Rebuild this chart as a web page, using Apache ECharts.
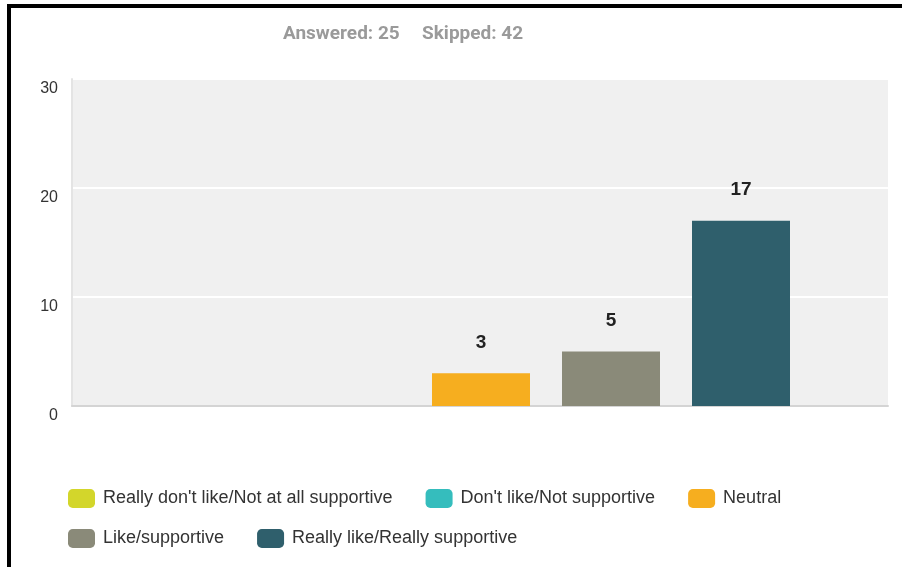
<!DOCTYPE html>
<html>
<head>
<meta charset="utf-8">
<script src="https://cdn.jsdelivr.net/npm/echarts@6/dist/echarts.min.js"></script>
<style>
html,body{margin:0;padding:0;background:#fff;}
#chart{width:902px;height:567px;}
</style>
</head>
<body>
<div id="chart"></div>
<script>
const categories = [
  "Really don't like/Not at all supportive",
  "Don't like/Not supportive",
  "Neutral",
  "Like/supportive",
  "Really like/Really supportive"
];
const values = [0, 0, 3, 5, 17];
const colors = ['#d3d62b', '#35bdbd', '#f6ae1f', '#8a8a79', '#2f5f6c'];
const yTicks = { min: 0, max: 30, interval: 10 };
const answered = 'Answered: 25';
const skipped = 'Skipped: 42';

const chart = echarts.init(document.getElementById('chart'), null, { renderer: 'canvas' });

const series = categories.map((name, i) => ({
  name: name,
  type: 'bar',
  xAxisIndex: 1,
  yAxisIndex: 1,
  barWidth: 98,
  barGap: '-100%',
  itemStyle: { color: colors[i] },
  label: {
    show: true,
    position: 'top',
    distance: 21,
    color: '#222',
    fontWeight: 'bold',
    fontSize: 19,
    fontFamily: 'Liberation Sans, Arial, sans-serif',
    formatter: p => (p.value ? String(p.value) : '')
  },
  data: values.map((v, j) => (j === i ? v : '-'))
}));

const legendCommon = {
  icon: 'roundRect',
  itemWidth: 27,
  itemHeight: 19,
  itemGap: 33,
  padding: 0,
  textStyle: { color: '#333', fontSize: 18, fontFamily: 'Liberation Sans, Arial, sans-serif', padding: [0, 0, 0, 3] },
  orient: 'horizontal',
  selectedMode: false
};

chart.setOption({
  animation: false,
  backgroundColor: '#fff',
  graphic: [
    { type: 'rect', shape: { x: 7, y: 4, width: 4, height: 563 }, style: { fill: '#000' } },
    { type: 'rect', shape: { x: 7, y: 4, width: 895, height: 4 }, style: { fill: '#000' } },
    { type: 'text', left: 283, top: 25, style: { text: answered, fill: '#9a9a9a', font: 'bold 19px Roboto, sans-serif' } },
    { type: 'text', left: 422, top: 25, style: { text: skipped, fill: '#9a9a9a', font: 'bold 19px Roboto, sans-serif' } }
  ],
  legend: [
    Object.assign({}, legendCommon, { data: categories.slice(0, 3), left: 68, top: 489 }),
    Object.assign({}, legendCommon, { data: categories.slice(3), left: 68, top: 529 })
  ],
  grid: [
    { left: 72, right: 14, top: 79, bottom: 161, show: true, backgroundColor: '#f0f0f0', borderWidth: 0 },
    { left: 156, right: 96, top: 79, bottom: 161 }
  ],
  xAxis: [
    { gridIndex: 0, type: 'value', min: 0, max: 1, axisLabel: { show: false }, axisTick: { show: false }, splitLine: { show: false },
      axisLine: { show: true, lineStyle: { color: '#d4d4d4', width: 2 } } },
    { gridIndex: 1, type: 'category', data: categories, axisLabel: { show: false }, axisTick: { show: false }, axisLine: { show: false } }
  ],
  yAxis: [
    { gridIndex: 0, type: 'value', min: yTicks.min, max: yTicks.max, interval: yTicks.interval,
      axisLine: { show: true, lineStyle: { color: '#e4e4e4', width: 2 } }, axisTick: { show: false },
      splitLine: { show: true, lineStyle: { color: '#ffffff', width: 2 } },
      axisLabel: { color: '#333', fontSize: 16, fontFamily: 'Liberation Sans, Arial, sans-serif', margin: 14, verticalAlign: 'top', padding: [2, 0, 0, 0] } },
    { gridIndex: 1, type: 'value', min: yTicks.min, max: yTicks.max, interval: yTicks.interval, show: false }
  ],
  series: series
});
</script>
</body>
</html>
